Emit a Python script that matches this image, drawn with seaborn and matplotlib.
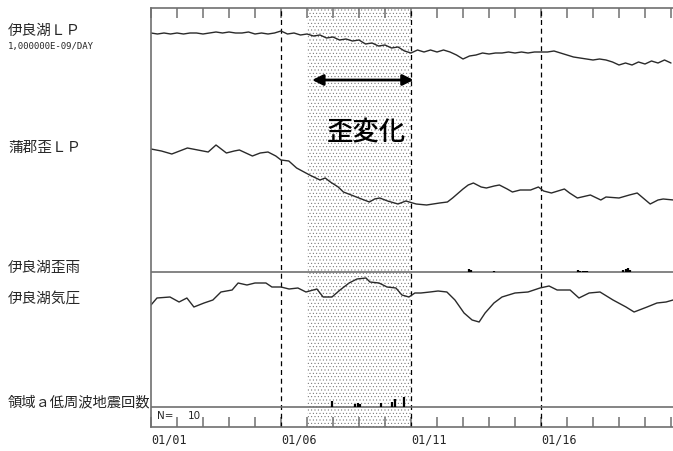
import numpy as np
import pandas as pd
import matplotlib
matplotlib.use("Agg")
import matplotlib.pyplot as plt
import seaborn as sns

# ── Data ──────────────────────────────────────────────────────────────────────
# deflection of each trace below its own baseline (chart units, down = positive)

# 伊良湖LP, sampled every 6 h from 01/01
irago_lp = [0, 1, 0, 1, 0, 1, 0, 0, 1, 0,
            -1, 0, -1, 0, 0, -1, 1, 0, 1, 0,
            -2, 1, 0, 2, 1, 3, 2, 5, 4, 7,
            6, 8, 7, 11, 10, 13, 12, 15, 14, 18,
            20, 17, 19, 17, 19, 17, 19, 22, 26, 23,
            22, 20, 21, 20, 20, 19, 20, 19, 20, 19,
            19, 19, 18, 20, 22, 24, 25, 26, 27, 26,
            27, 29, 32, 30, 32, 29, 31, 28, 30, 27,
            30]
irago_lp_day = np.arange(len(irago_lp)) * 0.25

# 蒲郡歪LP
gamagori_day = [0, 0.4, 0.8, 1.1, 1.4, 1.8, 2.2, 2.5, 2.9, 3.2, 3.4, 3.9, 4.2,
                4.5, 4.8, 5.0, 5.3, 5.6, 6.1, 6.5, 6.7, 6.9, 7.2, 7.4, 7.7,
                7.9, 8.2, 8.4, 8.6, 8.8, 9.1, 9.5, 9.8, 10.2, 10.6, 11.1, 11.4,
                11.6, 12.0, 12.2, 12.4, 12.7, 12.9, 13.2, 13.4, 13.7, 13.9,
                14.2, 14.6, 14.9, 15.1, 15.4, 15.9, 16.1, 16.4, 16.9, 17.3,
                17.5, 18.0, 18.4, 18.7, 19.2, 19.5, 19.7, 20.1]
gamagori_lp = [0, 2, 5, 2, -1, 1, 3, -4, 4, 2, 1, 7, 4,
               3, 7, 11, 12, 19, 26, 31, 29, 33, 38, 43, 46,
               48, 51, 53, 50, 49, 52, 55, 52, 55, 56, 54, 53,
               49, 40, 36, 34, 38, 39, 37, 36, 40, 43,
               41, 41, 38, 42, 44, 40, 44, 49, 46, 51,
               48, 49, 46, 44, 55, 51, 50, 51]

# 伊良湖気圧
pressure_day = [0, 0.23, 0.73, 1.08, 1.38, 1.65, 2.04, 2.38, 2.69, 3.12, 3.35,
                3.69, 4.0, 4.42, 4.65, 5.0, 5.31, 5.65, 5.96, 6.38, 6.62,
                6.96, 7.27, 7.62, 7.92, 8.27, 8.42, 8.77, 9.08, 9.42, 9.65,
                9.92, 10.15, 10.38, 10.73, 11.04, 11.38, 11.69, 12.04, 12.35,
                12.62, 12.85, 13.19, 13.5, 14.0, 14.5, 14.96, 15.31, 15.62,
                16.12, 16.46, 16.85, 17.27, 17.77, 18.27, 18.58, 19.08, 19.46,
                19.81, 20.08]
pressure = [0, -7, -8, -3, -7, 2, -2, -5, -13, -15, -22,
            -20, -22, -22, -18, -18, -16, -17, -13, -16, -8,
            -8, -15, -22, -26, -27, -23, -22, -18, -17, -10,
            -8, -12, -12, -13, -14, -13, -5, 8, 15,
            17, 8, -2, -8, -12, -13, -17, -19, -15,
            -15, -7, -12, -13, -5, 2, 7, 2, -2,
            -3, -5]

# 伊良湖歪雨 (rain bars)
rain_day = [12.23, 12.31, 13.19, 16.42, 16.5, 16.62, 16.69, 16.77,
            18.15, 18.27, 18.35, 18.42]
rain = [3, 2, 1, 2, 1, 1, 1, 1, 2, 3, 4, 2]

# 領域a低周波地震回数
quake_day = [6.96, 7.85, 7.96, 8.04, 8.85, 9.27, 9.38, 9.73]
quake_count = [6, 3, 4, 3, 4, 5, 8, 10]

date_labels = ["01/01", "01/06", "01/11", "01/16"]
strain_period = (6, 10)
marker_days = [5, 10, 15]

# ── Layout (pixel based, 673 x 451) ───────────────────────────────────────────
W, H = 673, 451
PX_PER_DAY = 26.0
LEFT, TOP, BOTTOM = 151, 8, 427
base = {"lp": 33, "gama": 149, "rain": 272, "pres": 305, "quake": 407}

sns.set_style("white")
plt.rcParams["font.family"] = ["Noto Sans CJK JP", "DejaVu Sans"]
plt.rcParams["hatch.linewidth"] = 0.3

fig = plt.figure(figsize=(W / 100, H / 100), dpi=100)
ax = fig.add_axes([LEFT / W, (H - BOTTOM) / H, 1 - LEFT / W, (BOTTOM - TOP) / H])
ax.set_xlim(0, (W - LEFT) / PX_PER_DAY)
ax.set_ylim(BOTTOM, TOP)

frame = "#707070"
ink = "#2a2a2a"

# stippled period of strain change
ax.axvspan(*strain_period, facecolor="none", edgecolor="#606060",
           hatch=".....", lw=0)

for d in marker_days:
    ax.axvline(d, color="black", lw=0.9, ls=(0, (4, 3)))

ax.axhline(base["rain"], color=frame, lw=1.2)
ax.axhline(base["quake"], color=frame, lw=1.2)

# traces
df_lp = pd.DataFrame({"day": irago_lp_day, "y": np.array(irago_lp) + base["lp"]})
df_gm = pd.DataFrame({"day": gamagori_day, "y": np.array(gamagori_lp) + base["gama"]})
df_pr = pd.DataFrame({"day": pressure_day, "y": np.array(pressure) + base["pres"]})
for df in (df_lp, df_gm, df_pr):
    sns.lineplot(data=df, x="day", y="y", ax=ax, color=ink, lw=1.0,
                 estimator=None, sort=False)

# bars
ax.vlines(rain_day, base["rain"], base["rain"] - np.array(rain), color="black", lw=1.6)
ax.vlines(quake_day, base["quake"], base["quake"] - np.array(quake_count),
          color="black", lw=1.6)

# axes / ticks
for s in ["top", "left", "bottom"]:
    ax.spines[s].set_color(frame)
    ax.spines[s].set_linewidth(1.2)
ax.spines["right"].set_visible(False)
days = np.arange(0, 21)
ax.set_xticks(days)
ax.set_xticklabels([date_labels[i // 5] if i % 5 == 0 and i // 5 < len(date_labels) else ""
                    for i in days], ha="left",
                   family=["DejaVu Sans Mono"], fontsize=8.5)
ax.tick_params(axis="x", which="both", direction="in", length=7, width=1.1,
               color=frame, top=True, bottom=True, pad=5)
ax.set_yticks([])
ax.set_xlabel("")
ax.set_ylabel("")

# arrow + annotation
arrow_y = 80
ax.annotate("", xy=(10.1, arrow_y), xytext=(6.2, arrow_y),
            arrowprops=dict(arrowstyle="<|-|>", color="black", lw=2.0,
                            mutation_scale=16, shrinkA=0, shrinkB=0))
ax.text(8.3, 133, "歪変化", ha="center", va="center", fontsize=19,
        fontweight="medium", color="black")

# left labels
def ftext(x, y, s, **kw):
    fig.text(x / W, 1 - y / H, s, va="center", ha="left", **kw)

ftext(8, 31, "伊良湖ＬＰ", fontsize=10.5)
ftext(8, 46, "1,000000E-09/DAY", fontsize=6.5, family=["DejaVu Sans Mono"])
ftext(8, 148, "蒲郡歪ＬＰ", fontsize=10.5)
ftext(8, 268, "伊良湖歪雨", fontsize=10.5)
ftext(8, 300, "伊良湖気圧", fontsize=10.5)
ftext(8, 402, "領域ａ低周波地震回数", fontsize=10.3)
ftext(157, 416, "N=", fontsize=7.5, family=["DejaVu Sans"])
ftext(188, 416, "10", fontsize=7.5, family=["DejaVu Sans"])

fig.savefig("out.png", dpi=100)
